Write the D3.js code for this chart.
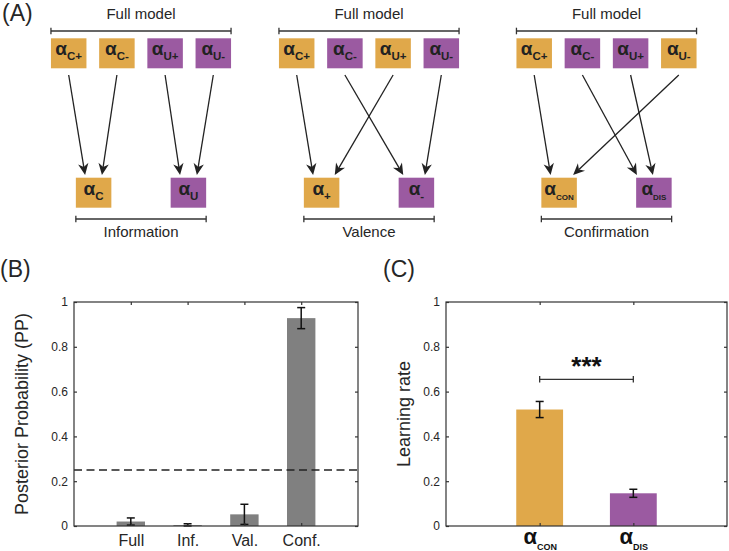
<!DOCTYPE html>
<html><head><meta charset="utf-8">
<script src="https://cdn.jsdelivr.net/npm/d3@7"></script>
<style>
html,body{margin:0;padding:0;background:#fff;}
svg{display:block;font-family:"Liberation Sans",Arial,Helvetica,sans-serif;}
</style></head>
<body>
<svg id="chart" width="729" height="551"></svg>
<script>
// ---------- DATA ----------
const fullParams = ["C+", "C-", "U+", "U-"];
const models = ["Information", "Valence", "Confirmation"];
const reducedParams = [["C", "U"], ["+", "-"], ["CON", "DIS"]];
const paramMapping = [[0, 0, 1, 1], [0, 1, 0, 1], [0, 1, 1, 0]]; // full param -> reduced param index
const fullModelLabel = "Full model";

const ppModels = ["Full", "Inf.", "Val.", "Conf."];
const ppMean = [0.020, 0.004, 0.052, 0.928];
const ppErr = [0.016, 0.006, 0.045, 0.047];
const chanceLevel = 0.25;
const ppYLabel = "Posterior Probability (PP)";

const lrParams = ["CON", "DIS"];
const lrMean = [0.520, 0.146];
const lrErr = [0.036, 0.018];
const lrYLabel = "Learning rate";
const sigLabel = "***";

const yTicks = [0, 0.2, 0.4, 0.6, 0.8, 1];
const yTickLabels = ["0", "0.2", "0.4", "0.6", "0.8", "1"];
const panelLabels = ["(A)", "(B)", "(C)"];

// ---------- STYLE ----------
const ORANGE = "#E0A84A", PURPLE = "#9B5AA1", GRAY = "#808080";
const groupColor = [ORANGE, PURPLE];
const INK = "#262626", AXIS = "#333333";

const svg = d3.select("#chart");

// ---------- PANEL LABELS ----------
svg.append("text").attr("x", 2).attr("y", 21).attr("font-size", 23).attr("fill", INK).text(panelLabels[0]);
svg.append("text").attr("x", 0).attr("y", 277).attr("font-size", 23).attr("fill", INK).text(panelLabels[1]);
svg.append("text").attr("x", 383).attr("y", 277).attr("font-size", 23).attr("fill", INK).text(panelLabels[2]);

// ---------- PANEL A ----------
const panelCx = [141, 369, 606.5];
const topY = 38.3, botY = 177.7, boxW = 35.5, boxH = 30;
const arrowY0 = 75, arrowY1 = 175;

function alphaLabel(g, cx, cy, sub, big, subSize) {
  const t = g.append("text").attr("x", cx).attr("y", cy).attr("text-anchor", "middle")
    .attr("font-weight", "bold").attr("fill", "#222");
  t.append("tspan").attr("font-size", big).text("α");
  t.append("tspan").attr("font-size", subSize).attr("dy", 4.5).text(sub);
  return t;
}

function arrow(g, x0, y0, x1, y1) {
  const dx = x1 - x0, dy = y1 - y0, L = Math.hypot(dx, dy);
  const ux = dx / L, uy = dy / L, px = -uy, py = ux;
  const hl = 11.5, hw = 5.2, notch = 3.5;
  const bx = x1 - ux * hl, by = y1 - uy * hl;
  const nx = x1 - ux * (hl - notch), ny = y1 - uy * (hl - notch);
  g.append("line").attr("x1", x0).attr("y1", y0).attr("x2", nx).attr("y2", ny)
    .attr("stroke", "#222").attr("stroke-width", 1.3);
  g.append("path").attr("d", `M${x1},${y1} L${bx + px * hw},${by + py * hw} L${nx},${ny} L${bx - px * hw},${by - py * hw} Z`)
    .attr("fill", "#222");
}

function bracket(g, xa, xb, y) {
  g.append("line").attr("x1", xa).attr("x2", xb).attr("y1", y).attr("y2", y).attr("stroke", AXIS).attr("stroke-width", 1.3);
  [xa, xb].forEach(x => g.append("line").attr("x1", x).attr("x2", x).attr("y1", y - 3.3).attr("y2", y + 3.3)
    .attr("stroke", AXIS).attr("stroke-width", 1.3));
}

models.forEach((m, mi) => {
  const g = svg.append("g");
  const cx = panelCx[mi];
  const xTop = d3.scalePoint().domain(fullParams).range([cx - 72.3, cx + 72.3]);
  const xBot = d3.scalePoint().domain(reducedParams[mi]).range([cx - 47.4, cx + 47.4]);

  g.append("text").attr("x", cx).attr("y", 19).attr("text-anchor", "middle").attr("font-size", 15).attr("fill", INK).text(fullModelLabel);
  bracket(g, xTop(fullParams[0]) - boxW / 2, xTop(fullParams[3]) + boxW / 2, 31);

  fullParams.forEach((p, pi) => {
    const x = xTop(p);
    g.append("rect").attr("x", x - boxW / 2).attr("y", topY).attr("width", boxW).attr("height", boxH)
      .attr("fill", groupColor[paramMapping[mi][pi]]);
    alphaLabel(g, x, topY + 17, p, 19, 11.5);
  });

  reducedParams[mi].forEach((p, ri) => {
    const x = xBot(p);
    g.append("rect").attr("x", x - boxW / 2).attr("y", botY).attr("width", boxW).attr("height", boxH)
      .attr("fill", groupColor[ri]);
    alphaLabel(g, x, botY + 17.5, p, 19, p.length > 2 ? 8 : 11.5);
  });

  bracket(g, xBot(reducedParams[mi][0]) - boxW / 2, xBot(reducedParams[mi][1]) + boxW / 2, 219);
  g.append("text").attr("x", cx).attr("y", 236.5).attr("text-anchor", "middle").attr("font-size", 15).attr("fill", INK).text(m);

  // arrows
  reducedParams[mi].forEach((rp, ri) => {
    const tx = xBot(rp);
    const inc = fullParams.map((p, pi) => ({ p, pi, sx: xTop(p) })).filter(d => paramMapping[mi][d.pi] === ri)
      .sort((a, b) => a.sx - b.sx);
    const allLeft = inc.every(d => d.sx < tx);
    inc.forEach((d, k) => {
      let off;
      if (allLeft) off = k === 0 ? -17 : -1;
      else off = Math.sign(d.sx - tx) * Math.min(6 + 0.1 * Math.abs(d.sx - tx), 14);
      arrow(g, d.sx, arrowY0, tx + off, arrowY1);
    });
  });
});

// ---------- AXES HELPER ----------
function frame(g, x, y, xTickVals) {
  const [x0, x1] = x.range(), [y0, y1] = y.range();
  g.append("rect").attr("x", x0).attr("y", y1).attr("width", x1 - x0).attr("height", y0 - y1)
    .attr("fill", "none").attr("stroke", AXIS).attr("stroke-width", 1.2);
  const left = g.append("g").attr("transform", `translate(${x0},0)`)
    .call(d3.axisLeft(y).tickValues(yTicks).tickFormat((d, i) => yTickLabels[i]).tickSizeInner(-3).tickSizeOuter(0).tickPadding(6));
  const right = g.append("g").attr("transform", `translate(${x1},0)`)
    .call(d3.axisRight(y).tickValues(yTicks).tickFormat("").tickSizeInner(-3).tickSizeOuter(0));
  const top = g.append("g").attr("transform", `translate(0,${y1})`)
    .call(d3.axisTop(x).tickValues(xTickVals).tickFormat("").tickSizeInner(-3).tickSizeOuter(0));
  [left, right, top].forEach(a => {
    a.select(".domain").remove();
    a.selectAll("line").attr("stroke", AXIS).attr("stroke-width", 1.2);
    a.selectAll("text").attr("font-size", 12).attr("fill", INK).attr("font-family", "Liberation Sans, Arial, sans-serif");
  });
}

// ---------- PANEL B ----------
{
  const g = svg.append("g");
  const x = d3.scaleLinear().domain([0, ppModels.length + 1]).range([74, 358]);
  const y = d3.scaleLinear().domain([0, 1]).range([526, 302]);
  const pos = ppModels.map((d, i) => i + 1);
  const bw = x(0.5) - x(0);

  g.selectAll("rect.bar").data(ppMean).enter().append("rect").attr("class", "bar")
    .attr("x", (d, i) => x(pos[i]) - bw / 2).attr("y", d => y(d)).attr("width", bw).attr("height", d => y(0) - y(d))
    .attr("fill", GRAY);

  g.append("line").attr("x1", x.range()[0]).attr("x2", x.range()[1]).attr("y1", y(chanceLevel)).attr("y2", y(chanceLevel))
    .attr("stroke", "#222").attr("stroke-width", 1.3).attr("stroke-dasharray", "8,4.5");

  ppMean.forEach((m, i) => {
    const cx = x(pos[i]), lo = Math.max(0, m - ppErr[i]), hi = m + ppErr[i];
    g.append("line").attr("x1", cx).attr("x2", cx).attr("y1", y(lo)).attr("y2", y(hi)).attr("stroke", "#111").attr("stroke-width", 1.5);
    [lo, hi].forEach(v => g.append("line").attr("x1", cx - 4).attr("x2", cx + 4).attr("y1", y(v)).attr("y2", y(v)).attr("stroke", "#111").attr("stroke-width", 1.5));
  });

  frame(g, x, y, pos);
  const bottom = g.append("g").attr("transform", `translate(0,${y.range()[0]})`)
    .call(d3.axisBottom(x).tickValues(pos).tickFormat((d, i) => ppModels[i]).tickSizeInner(-3).tickSizeOuter(0).tickPadding(9));
  bottom.select(".domain").remove();
  bottom.selectAll("line").attr("stroke", AXIS).attr("stroke-width", 1.2);
  bottom.selectAll("text").attr("font-size", 16).attr("fill", INK).attr("font-family", "Liberation Sans, Arial, sans-serif");

  g.append("text").attr("transform", `translate(28,${(y.range()[0] + y.range()[1]) / 2}) rotate(-90)`)
    .attr("text-anchor", "middle").attr("font-size", 18).attr("fill", INK).text(ppYLabel);
}

// ---------- PANEL C ----------
{
  const g = svg.append("g");
  const x = d3.scaleLinear().domain([0, lrParams.length + 1]).range([446, 727]);
  const y = d3.scaleLinear().domain([0, 1]).range([526, 302]);
  const pos = lrParams.map((d, i) => i + 1);
  const bw = x(0.5) - x(0);

  g.selectAll("rect.bar").data(lrMean).enter().append("rect").attr("class", "bar")
    .attr("x", (d, i) => x(pos[i]) - bw / 2).attr("y", d => y(d)).attr("width", bw).attr("height", d => y(0) - y(d))
    .attr("fill", (d, i) => groupColor[i]);

  lrMean.forEach((m, i) => {
    const cx = x(pos[i]), lo = m - lrErr[i], hi = m + lrErr[i];
    g.append("line").attr("x1", cx).attr("x2", cx).attr("y1", y(lo)).attr("y2", y(hi)).attr("stroke", "#111").attr("stroke-width", 1.5);
    [lo, hi].forEach(v => g.append("line").attr("x1", cx - 4).attr("x2", cx + 4).attr("y1", y(v)).attr("y2", y(v)).attr("stroke", "#111").attr("stroke-width", 1.5));
  });

  frame(g, x, y, pos);
  const bottom = g.append("g").attr("transform", `translate(0,${y.range()[0]})`)
    .call(d3.axisBottom(x).tickValues(pos).tickFormat("").tickSizeInner(-3).tickSizeOuter(0));
  bottom.select(".domain").remove();
  bottom.selectAll("line").attr("stroke", AXIS).attr("stroke-width", 1.2);
  bottom.selectAll(".tick").each(function (d, i) {
    const t = d3.select(this).append("text").attr("x", 0).attr("y", 17.5).attr("text-anchor", "middle")
      .attr("font-weight", "bold").attr("fill", "#111").attr("font-family", "Liberation Sans, Arial, sans-serif");
    t.append("tspan").attr("font-size", 22).text("α");
    t.append("tspan").attr("font-size", 9).attr("dy", 6).text(lrParams[i]);
  });

  // significance bracket
  const sy = y(0.655);
  const xa = x(pos[0]), xb = x(pos[1]);
  g.append("line").attr("x1", xa).attr("x2", xb).attr("y1", sy).attr("y2", sy).attr("stroke", AXIS).attr("stroke-width", 1.3);
  [xa, xb].forEach(xx => g.append("line").attr("x1", xx).attr("x2", xx).attr("y1", sy - 3.3).attr("y2", sy + 3.3).attr("stroke", AXIS).attr("stroke-width", 1.3));
  g.append("text").attr("x", (xa + xb) / 2).attr("y", sy - 4).attr("text-anchor", "middle")
    .attr("font-size", 26).attr("font-weight", "bold").attr("fill", "#111").text(sigLabel);

  g.append("text").attr("transform", `translate(410,${(y.range()[0] + y.range()[1]) / 2}) rotate(-90)`)
    .attr("text-anchor", "middle").attr("font-size", 18).attr("fill", INK).text(lrYLabel);
}
</script>
</body></html>
